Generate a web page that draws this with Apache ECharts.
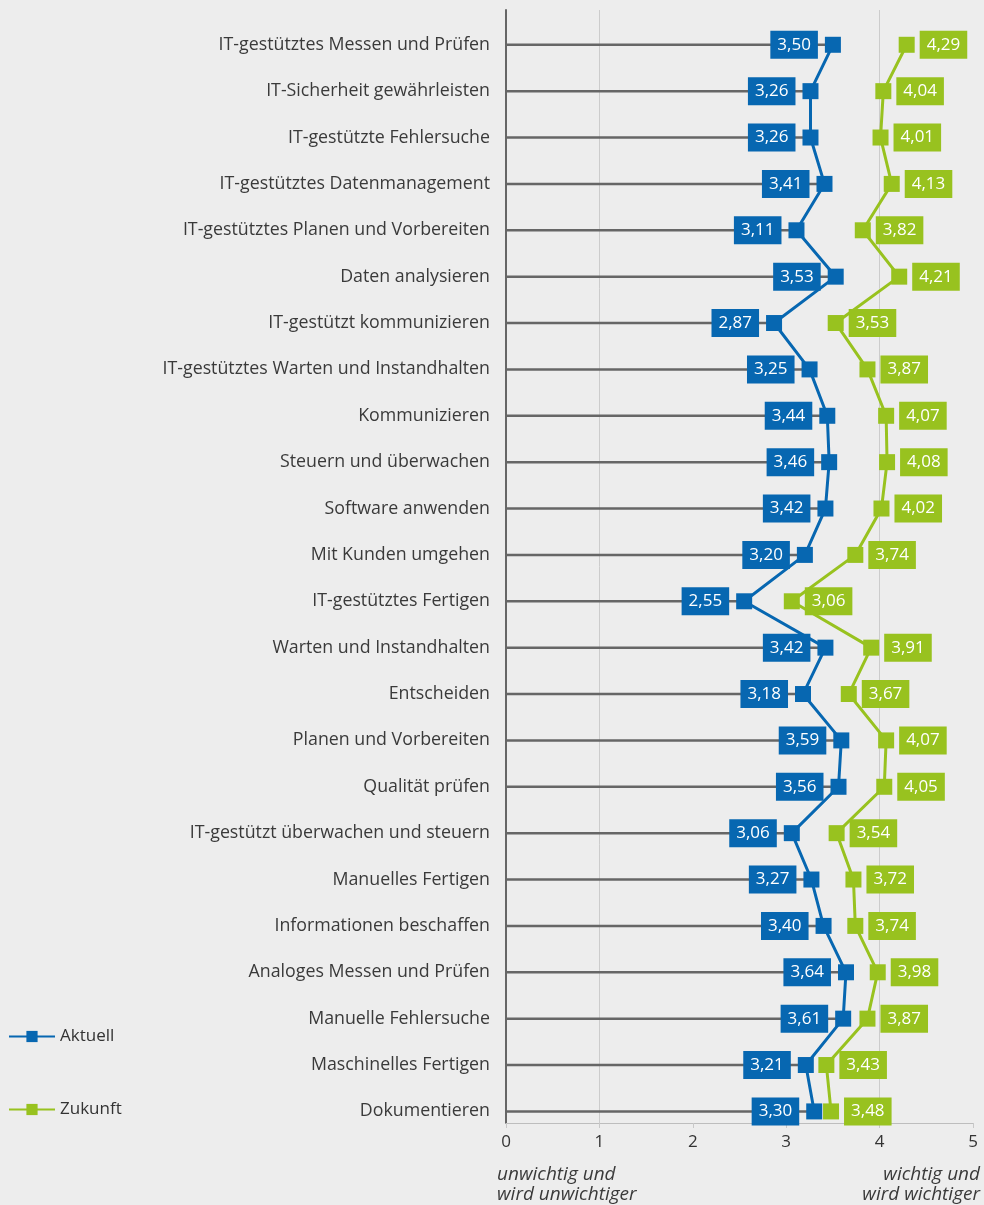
<!DOCTYPE html>
<html>
<head>
<meta charset="utf-8">
<script src="https://cdn.jsdelivr.net/npm/echarts@6/dist/echarts.min.js"></script>
<style>
  html, body { margin: 0; padding: 0; background: #ededed; }
  #chart { width: 984px; height: 1205px; }
</style>
</head>
<body>
<div id="chart"></div>
<script>
// Kategorien (von oben nach unten)
var categories = [
    'IT-gestütztes Messen und Prüfen',
    'IT-Sicherheit gewährleisten',
    'IT-gestützte Fehlersuche',
    'IT-gestütztes Datenmanagement',
    'IT-gestütztes Planen und Vorbereiten',
    'Daten analysieren',
    'IT-gestützt kommunizieren',
    'IT-gestütztes Warten und Instandhalten',
    'Kommunizieren',
    'Steuern und überwachen',
    'Software anwenden',
    'Mit Kunden umgehen',
    'IT-gestütztes Fertigen',
    'Warten und Instandhalten',
    'Entscheiden',
    'Planen und Vorbereiten',
    'Qualität prüfen',
    'IT-gestützt überwachen und steuern',
    'Manuelles Fertigen',
    'Informationen beschaffen',
    'Analoges Messen und Prüfen',
    'Manuelle Fehlersuche',
    'Maschinelles Fertigen',
    'Dokumentieren'
];
var aktuell = [3.50, 3.26, 3.26, 3.41, 3.11, 3.53, 2.87, 3.25, 3.44, 3.46, 3.42, 3.20,
               2.55, 3.42, 3.18, 3.59, 3.56, 3.06, 3.27, 3.40, 3.64, 3.61, 3.21, 3.30];
var zukunft = [4.29, 4.04, 4.01, 4.13, 3.82, 4.21, 3.53, 3.87, 4.07, 4.08, 4.02, 3.74,
               3.06, 3.91, 3.67, 4.07, 4.05, 3.54, 3.72, 3.74, 3.98, 3.87, 3.43, 3.48];
var xTicks = [0, 1, 2, 3, 4, 5];
var refLines = [1, 4];   // nur bei 1 und 4 eine senkrechte Hilfslinie

var BLUE = '#0767b1';
var GREEN = '#98c21f';
var FONT = 'Open Sans';

function pairs(arr) {
    return arr.map(function (v, i) { return [v, i]; });
}
function fmt(v) {
    return v.toFixed(2).replace('.', ',');
}

var chart = echarts.init(document.getElementById('chart'));
var option = {
    backgroundColor: '#ededed',
    textStyle: { fontFamily: FONT },
    animation: false,
    grid: { left: 506, right: 11, top: 10, bottom: 82, containLabel: false },
    title: [
        {
            text: 'unwichtig und\nwird unwichtiger',
            left: 497, top: 1165,
            padding: 0,
            textStyle: { fontFamily: FONT, fontSize: 19, fontStyle: 'italic', fontWeight: 'normal', color: '#3a3a3a', lineHeight: 20 }
        },
        {
            text: 'wichtig und\nwird wichtiger',
            left: 980, top: 1165, textAlign: 'right',
            padding: 0,
            textStyle: { fontFamily: FONT, fontSize: 19, fontStyle: 'italic', fontWeight: 'normal', color: '#3a3a3a', lineHeight: 20 }
        }
    ],
    legend: {
        orient: 'vertical',
        left: 8, top: 1028, padding: 0,
        itemWidth: 46, itemHeight: 14, itemGap: 56,
        data: ['Aktuell', 'Zukunft'],
        textStyle: { fontFamily: FONT, fontSize: 17, color: '#333' }
    },
    xAxis: {
        type: 'value', min: 0, max: 5, interval: 1,
        axisLine: { show: true, onZero: false, lineStyle: { color: '#bdbdbd', width: 1 } },
        axisTick: { show: true, length: 5, lineStyle: { color: '#c8c8c8' } },
        axisLabel: {
            fontFamily: FONT, fontSize: 17, color: '#333', margin: 11,
            formatter: function (v) { return xTicks.indexOf(v) >= 0 ? String(v) : ''; }
        },
        splitLine: {
            show: true,
            lineStyle: {
                width: 1,
                color: xTicks.map(function (t) {
                    return refLines.indexOf(t) >= 0 ? '#cccccc' : 'rgba(0,0,0,0)';
                })
            }
        }
    },
    yAxis: {
        type: 'value', inverse: true, min: -0.75, max: 23.25, interval: 0.25,
        axisLine: { show: true, onZero: false, lineStyle: { color: '#666', width: 2 } },
        axisTick: { show: false },
        splitLine: { show: false },
        axisLabel: {
            fontFamily: FONT, fontSize: 17.8, color: '#3a3a3a', margin: 16,
            formatter: function (v) {
                var r = Math.round(v);
                if (Math.abs(v - r) > 1e-6 || r < 0 || r >= categories.length) return '';
                return categories[r];
            }
        }
    },
    series: [
        {
            // graue Führungslinien von 0 bis zum aktuellen Wert
            type: 'custom',
            silent: true,
            z: 1,
            data: pairs(aktuell),
            encode: { x: 0, y: 1 },
            renderItem: function (params, api) {
                var p0 = api.coord([0, api.value(1)]);
                var p1 = api.coord([api.value(0), api.value(1)]);
                return {
                    type: 'line',
                    shape: { x1: p0[0], y1: p0[1], x2: p1[0], y2: p1[1] },
                    style: { stroke: '#666', lineWidth: 2.5 }
                };
            }
        },
        {
            name: 'Aktuell',
            type: 'line',
            z: 3,
            data: pairs(aktuell),
            symbol: 'rect',
            symbolSize: 16,
            itemStyle: { color: BLUE },
            lineStyle: { color: BLUE, width: 3 },
            label: {
                show: true, position: 'left', distance: 7,
                formatter: function (p) { return fmt(p.value[0]); },
                backgroundColor: BLUE, color: '#fff',
                fontFamily: FONT, fontSize: 17, lineHeight: 20,
                padding: [4, 7]
            }
        },
        {
            name: 'Zukunft',
            type: 'line',
            z: 4,
            data: pairs(zukunft),
            symbol: 'rect',
            symbolSize: 16,
            itemStyle: { color: GREEN },
            lineStyle: { color: GREEN, width: 3 },
            label: {
                show: true, position: 'right', distance: 5,
                formatter: function (p) { return fmt(p.value[0]); },
                backgroundColor: GREEN, color: '#fff',
                fontFamily: FONT, fontSize: 17, lineHeight: 20,
                padding: [4, 7]
            }
        }
    ]
};
chart.setOption(option);
</script>
</body>
</html>
